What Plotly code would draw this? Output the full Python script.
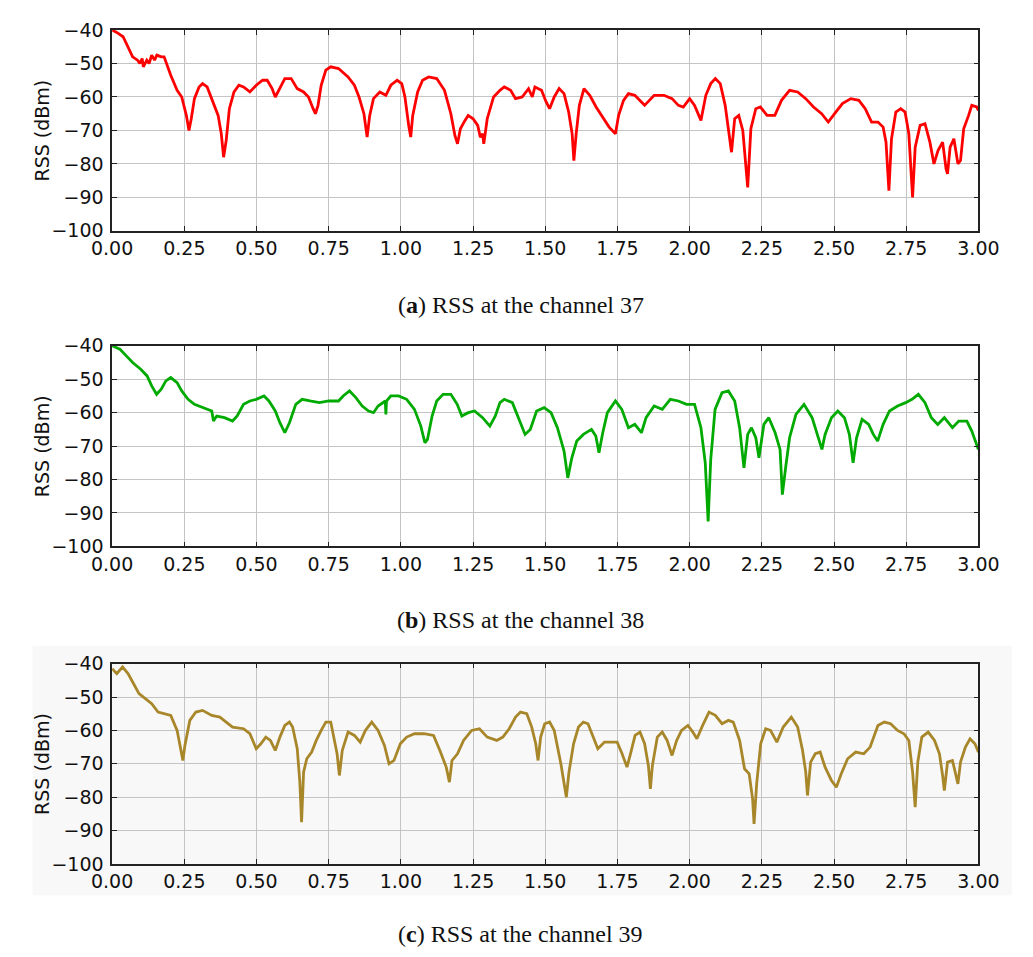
import plotly.graph_objects as go

# ---------------- data ----------------
x37 = [0, 0.016, 0.038, 0.055, 0.071, 0.088, 0.096, 0.104, 0.108, 0.12, 0.128, 0.137, 0.147, 0.155,
       0.17, 0.18, 0.203, 0.225, 0.241, 0.257, 0.266, 0.274, 0.285, 0.301,
       0.313, 0.329, 0.345, 0.367, 0.378, 0.386, 0.395, 0.406, 0.422, 0.439,
       0.455, 0.477, 0.499, 0.521, 0.537, 0.554, 0.565, 0.581, 0.598, 0.62,
       0.641, 0.663, 0.68, 0.696, 0.704, 0.713, 0.724, 0.74, 0.757, 0.784,
       0.817, 0.839, 0.855, 0.872, 0.883, 0.892, 0.905, 0.927, 0.948, 0.965,
       0.987, 1.003, 1.014, 1.027, 1.034, 1.041, 1.058, 1.075, 1.096, 1.124,
       1.151, 1.173, 1.187, 1.196, 1.206, 1.222, 1.233, 1.25, 1.266, 1.275,
       1.283, 1.287, 1.299, 1.321, 1.343, 1.358, 1.38, 1.397, 1.42, 1.442, 1.455, 1.464,
       1.487, 1.503, 1.515, 1.531, 1.548, 1.565, 1.581, 1.593, 1.599, 1.607,
       1.618, 1.634, 1.654, 1.676, 1.699, 1.721, 1.743, 1.754, 1.771, 1.788,
       1.81, 1.844, 1.877, 1.911, 1.939, 1.961, 1.978, 2.0, 2.017, 2.039,
       2.056, 2.073, 2.089, 2.106, 2.123, 2.136, 2.145, 2.156, 2.17, 2.184,
       2.195, 2.201, 2.212, 2.229, 2.245, 2.268, 2.295, 2.318, 2.346, 2.374,
       2.402, 2.429, 2.457, 2.48, 2.502, 2.529, 2.558, 2.586, 2.608, 2.63,
       2.652, 2.67, 2.68, 2.69, 2.699, 2.714, 2.731, 2.746, 2.759, 2.772,
       2.781, 2.798, 2.815, 2.832, 2.846, 2.86, 2.876, 2.888, 2.893, 2.902,
       2.915, 2.929, 2.938, 2.949, 2.966, 2.977, 2.994, 3.0]
rss37 = [-40, -40.7, -42, -45, -48, -49, -50, -48.5, -51, -49, -50, -47.5, -49, -47.5,
         -48, -48, -53.5, -58, -60, -65.5, -70, -66.5, -60.5, -57,
         -56, -57, -60.5, -65.5, -71, -78, -73, -63.5, -58.5, -56.5,
         -57, -58.5, -56.5, -55, -55, -57.5, -60, -57.5, -54.5, -54.5,
         -57.5, -58.5, -60, -63.5, -65, -62.5, -56.5, -52, -51, -51.5,
         -54, -56.5, -60, -65, -72, -65.5, -60.5, -58.5, -59.5, -56.5,
         -55, -56, -60, -68.5, -72, -65.5, -58.5, -55, -54, -54.5,
         -58, -65, -71.5, -74, -69.5, -67, -65.5, -66.5, -68.5, -72,
         -71, -74, -66.5, -60, -58, -57, -58, -60.5, -60, -57.5, -60, -57,
         -58, -61.5, -63.5, -60, -57.5, -59, -64.5, -71, -79, -71,
         -62.5, -57.5, -59.5, -63, -66, -69, -71, -65.5, -61, -59,
         -59.5, -62.5, -59.5, -59.5, -60.5, -62.5, -63, -60.5, -62.5, -67,
         -59.5, -56, -54.5, -56, -62.5, -71, -76.5, -66.5, -65.5, -70,
         -80, -87, -69.5, -63.5, -63, -65.5, -65.5, -61, -58, -58.5,
         -60.5, -63, -65, -67.5, -65, -62, -60.5, -61, -63.5, -67.5,
         -67.5, -69, -73.5, -88, -72.5, -64.5, -63.5, -64.5, -71, -90,
         -75, -68.5, -68, -73.5, -80, -76, -73.5, -81.5, -83, -75,
         -72.5, -80, -79, -69.5, -65.5, -62.5, -63, -64]

x38 = [0, 0.027, 0.049, 0.071, 0.099, 0.121, 0.137, 0.154, 0.17, 0.186,
       0.203, 0.225, 0.241, 0.263, 0.285, 0.313, 0.345, 0.351, 0.362, 0.389, 0.417,
       0.433, 0.455, 0.477, 0.499, 0.526, 0.543, 0.565, 0.581, 0.598, 0.614,
       0.636, 0.658, 0.685, 0.718, 0.75, 0.784, 0.8, 0.822, 0.844, 0.866,
       0.888, 0.905, 0.921, 0.946, 0.948, 0.95, 0.965, 0.992, 1.02, 1.047,
       1.069, 1.083, 1.092, 1.108, 1.124, 1.146, 1.173, 1.195, 1.211, 1.233,
       1.255, 1.283, 1.308, 1.327, 1.343, 1.358, 1.386, 1.408, 1.43, 1.448,
       1.47, 1.496, 1.52, 1.542, 1.565, 1.578, 1.592, 1.609, 1.632, 1.66,
       1.675, 1.686, 1.699, 1.715, 1.743, 1.765, 1.788, 1.81, 1.833, 1.849,
       1.877, 1.905, 1.933, 1.961, 1.989, 2.017, 2.039, 2.054, 2.064, 2.073,
       2.088, 2.112, 2.134, 2.156, 2.173, 2.188, 2.201, 2.214, 2.229, 2.24,
       2.257, 2.274, 2.296, 2.313, 2.321, 2.333, 2.346, 2.368, 2.396, 2.424,
       2.446, 2.458, 2.469, 2.491, 2.513, 2.536, 2.553, 2.566, 2.578, 2.597,
       2.62, 2.636, 2.651, 2.67, 2.692, 2.72, 2.748, 2.77, 2.792, 2.815,
       2.837, 2.859, 2.882, 2.91, 2.932, 2.96, 2.977, 3.0]
rss38 = [-40, -41, -43, -45, -47, -49, -52, -54.5, -53, -50.5,
         -49.5, -51, -53.5, -56, -57.5, -58.5, -59.5, -62.5, -61, -61.5, -62.5,
         -61, -57.5, -56.5, -56, -55, -56.5, -59.5, -63, -66, -63,
         -57.5, -56, -56.5, -57, -56.5, -56.5, -55, -53.5, -55.5, -58,
         -59.5, -60, -58, -56.5, -60.5, -56.5, -55, -55, -56, -59,
         -64, -69, -68, -61, -56.5, -54.5, -54.5, -57.5, -61, -60,
         -59.5, -61.5, -64, -61, -57, -56, -57, -61.5, -66.5, -65,
         -59.5, -58.5, -60, -64.5, -71.5, -79.5, -73.5, -68.5, -66.5, -65,
         -67, -72, -66, -60, -56.5, -59, -64.5, -63.5, -66, -61.5,
         -58, -59, -56, -56.5, -57.5, -57.5, -64.5, -75, -92.5, -74,
         -59, -54, -53.5, -56.5, -64.5, -76.5, -66.5, -64.5, -67.5, -73.5,
         -63.5, -61.5, -66, -71, -84.5, -76, -67.5, -60.5, -57.5, -61.5,
         -67.5, -71, -66.5, -61.5, -59.5, -61.5, -66.5, -75, -67.5, -62,
         -63.5, -66.5, -68.5, -63.5, -59.5, -58, -57, -56, -54.5, -57,
         -61.5, -63.5, -61.5, -64.5, -62.5, -62.5, -65.5, -71]

x39 = [0, 0.016, 0.036, 0.055, 0.071, 0.093, 0.115, 0.137, 0.159, 0.18,
       0.203, 0.225, 0.239, 0.245, 0.252, 0.269, 0.29, 0.313, 0.345, 0.373,
       0.395, 0.417, 0.455, 0.477, 0.499, 0.515, 0.532, 0.548, 0.565, 0.581,
       0.598, 0.614, 0.625, 0.641, 0.65, 0.656, 0.663, 0.674, 0.691, 0.707,
       0.724, 0.74, 0.757, 0.768, 0.779, 0.787, 0.797, 0.817, 0.839, 0.859,
       0.877, 0.899, 0.921, 0.943, 0.959, 0.976, 0.998, 1.02, 1.047, 1.08,
       1.113, 1.135, 1.157, 1.168, 1.177, 1.196, 1.217, 1.245, 1.272, 1.299,
       1.332, 1.353, 1.375, 1.397, 1.414, 1.436, 1.453, 1.467, 1.475, 1.484,
       1.498, 1.515, 1.531, 1.554, 1.565, 1.573, 1.582, 1.598, 1.615, 1.632,
       1.648, 1.665, 1.682, 1.705, 1.727, 1.749, 1.766, 1.783, 1.795, 1.811,
       1.828, 1.844, 1.857, 1.864, 1.871, 1.888, 1.905, 1.922, 1.939, 1.955,
       1.972, 1.994, 2.011, 2.025, 2.045, 2.067, 2.089, 2.112, 2.134, 2.151,
       2.173, 2.19, 2.206, 2.218, 2.223, 2.232, 2.246, 2.263, 2.28, 2.302,
       2.324, 2.352, 2.374, 2.391, 2.402, 2.408, 2.419, 2.435, 2.452, 2.469,
       2.491, 2.508, 2.525, 2.547, 2.575, 2.603, 2.625, 2.652, 2.674, 2.696,
       2.72, 2.742, 2.759, 2.772, 2.781, 2.79, 2.804, 2.826, 2.848, 2.865,
       2.876, 2.882, 2.893, 2.91, 2.921, 2.929, 2.938, 2.955, 2.971, 2.988,
       3.0]
rss39 = [-41.5, -43, -41, -43, -45.5, -49, -50.5, -52, -54.5, -55,
         -55.5, -60, -66, -69, -64.5, -57, -54.5, -54, -55.5, -56,
         -57.5, -59, -59.5, -61, -65.5, -64, -62, -63, -66, -62,
         -58.5, -57.5, -59, -65.5, -75.5, -87.5, -72.5, -68.5, -66.5, -63,
         -60, -57.5, -57.5, -62, -67, -73.5, -66, -60.5, -61.5, -63.5,
         -60, -57.5, -60, -64.5, -70, -69, -64, -62, -61, -61,
         -61.5, -66, -71, -75.5, -69, -67, -63, -60, -59.5, -62,
         -63, -62, -59.5, -56, -54.5, -55, -59, -64, -69, -62,
         -58, -57.5, -60, -70, -75.5, -80, -72.5, -64, -59, -57.5,
         -58, -62, -65.5, -63.5, -63.5, -63.5, -67, -71, -67, -61.5,
         -60.5, -64, -70.5, -77.5, -70.5, -62, -60.5, -63, -67.5, -63,
         -60, -58.5, -60.5, -62.5, -58.5, -54.5, -55.5, -58, -57, -57.5,
         -63, -71.5, -73, -80.5, -88, -76, -64, -59.5, -60, -63.5,
         -59, -56, -59, -66, -72.5, -79.5, -69.5, -67, -66.5, -71,
         -75, -77, -73, -68.5, -66.5, -67, -65, -58.5, -57.5, -58,
         -60, -61, -63, -72.5, -83, -69.5, -62, -60.5, -63, -67,
         -73.5, -78, -69.5, -69, -73, -76, -69.5, -65, -62.5, -64,
         -66.5]

assert len(x37) == len(rss37) and len(x38) == len(rss38) and len(x39) == len(rss39)

x_ticks = [0.0, 0.25, 0.5, 0.75, 1.0, 1.25, 1.5, 1.75, 2.0, 2.25, 2.5, 2.75, 3.0]
y_ticks = [-100, -90, -80, -70, -60, -50, -40]
y_title = "RSS (dBm)"
captions = ["(<b>a</b>) RSS at the channel 37",
            "(<b>b</b>) RSS at the channel 38",
            "(<b>c</b>) RSS at the channel 39"]
series = [(x37, rss37, "#ff0000"), (x38, rss38, "#00aa00"), (x39, rss39, "#a8862a")]

# ---------------- layout geometry (pixels) ----------------
W, H = 1033, 957
px_left, px_right = 95, 998
panels_px = [(19.5, 225), (342.7, 548), (668, 873)]   # top, bottom of each plot area
caption_y_px = [301, 623, 945]

fig = go.Figure()
tick_font = dict(family="DejaVu Sans", size=19, color="#111111")

for i, (xs, ys, col) in enumerate(series):
    n = "" if i == 0 else str(i + 1)
    fig.add_trace(go.Scatter(x=xs, y=ys, mode="lines",
                             line=dict(color=col, width=2.8),
                             xaxis="x" + n, yaxis="y" + n, showlegend=False))
    top, bot = panels_px[i]
    common = dict(showline=True, linecolor="#222222", linewidth=1.5, mirror="ticks",
                  ticks="inside", ticklen=5, tickwidth=1, tickcolor="#222222",
                  showgrid=True, gridcolor="#c4c4c4", gridwidth=1, zeroline=False,
                  tickfont=tick_font)
    fig.update_layout(**{
        "xaxis" + n: dict(domain=[px_left / W, px_right / W], anchor="y" + n,
                          range=[0, 3], tickvals=x_ticks, tickformat=".2f",
                          **common),
        "yaxis" + n: dict(domain=[1 - bot / H, 1 - top / H], anchor="x" + n,
                          range=[-100, -40], tickvals=y_ticks,
                          ticklabelstandoff=3, **common),
    })
    fig.add_annotation(text=y_title, textangle=-90, xref="paper", yref="paper",
                       x=22 / W, y=1 - (top + bot) / 2 / H, showarrow=False,
                       xanchor="center", yanchor="middle",
                       font=dict(family="DejaVu Sans", size=19, color="#111111"))
    fig.add_annotation(text=captions[i], xref="paper", yref="paper",
                       x=521 / W, y=1 - caption_y_px[i] / H, showarrow=False,
                       xanchor="center", yanchor="middle",
                       font=dict(family="Liberation Serif", size=24, color="#111111"))

# light grey backdrop of panel (c)
fig.add_shape(type="rect", xref="paper", yref="paper", layer="below",
              x0=12 / W, x1=1, y0=1 - 905 / H, y1=1 - 650 / H,
              fillcolor="#f8f8f8", line=dict(width=0))

fig.update_layout(width=W, height=H, margin=dict(l=0, r=0, t=0, b=0),
                  paper_bgcolor="white", plot_bgcolor="rgba(0,0,0,0)")

fig.write_html("out.html")
